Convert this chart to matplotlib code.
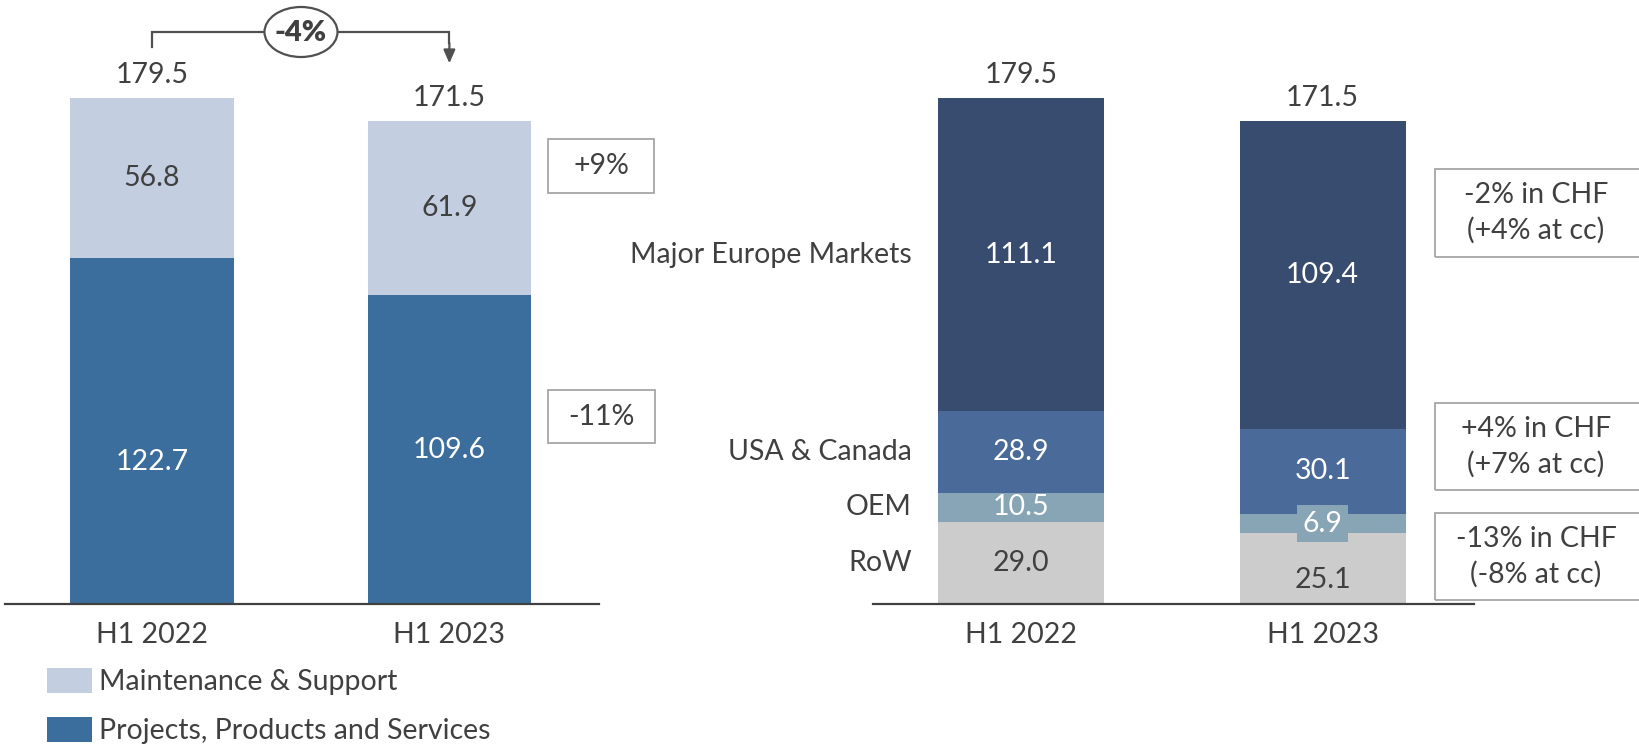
import matplotlib.pyplot as plt
from matplotlib.patches import Rectangle, Ellipse

plt.rcParams['font.family'] = ['Lato', 'DejaVu Sans']

# data
periods = ['H1 2022', 'H1 2023']
projects = [122.7, 109.6]
maintenance = [56.8, 61.9]
totals = [179.5, 171.5]

region_names = ['RoW', 'OEM', 'USA & Canada', 'Major Europe Markets']
row = [29.0, 25.1]
oem = [10.5, 6.9]
usa = [28.9, 30.1]
europe = [111.1, 109.4]

total_change = '-4%'
left_changes = ['+9%', '-11%']
right_changes = ['-2% in CHF\n(+4% at cc)', '+4% in CHF\n(+7% at cc)', '-13% in CHF\n(-8% at cc)']

# colours
c_light = '#c3cee0'
c_blue = '#3b6e9c'
c_navy = '#374c6e'
c_usa = '#4a6a9a'
c_oem = '#87a5b4'
c_row = '#cccccc'
c_text = '#404040'
c_box = '#a6a6a6'

W, H = 1639, 745
fig = plt.figure(figsize=(W / 100, H / 100), dpi=100)
YMAX = 604 / 2.819
FS = 20.5


def fx(x):
    return x / W


def fy(y):
    return 1 - y / H


def box(x0, y0, x1, y1, text):
    fig.patches.append(Rectangle((fx(x0), fy(y1)), fx(x1) - fx(x0), fy(y0) - fy(y1),
                                 transform=fig.transFigure, fill=False, ec=c_box, lw=1.3))
    fig.text(fx((x0 + min(x1, 1637)) / 2), fy((y0 + y1) / 2), text, ha='center', va='center',
             fontsize=FS, color=c_text, linespacing=1.4)


def setup(ax, xl, xr):
    ax.set_xlim(xl, xr)
    ax.set_ylim(0, YMAX)
    for s in ['top', 'left', 'right']:
        ax.spines[s].set_visible(False)
    ax.spines['bottom'].set_color(c_text)
    ax.spines['bottom'].set_linewidth(1.6)
    ax.set_yticks([])
    ax.set_xticks(range(len(periods)))
    ax.set_xticklabels(periods, fontsize=FS, color=c_text)
    ax.tick_params(axis='x', length=0, pad=13)
    ax.patch.set_alpha(0)


x = [0, 1]
bw = 0.55

# left chart
ax1 = fig.add_axes([fx(5), fy(604), fx(599) - fx(5), 604 / H])
setup(ax1, -0.494, 1.503)
b_proj = ax1.bar(x, projects, bw, color=c_blue, label='Projects, Products and Services')
b_maint = ax1.bar(x, maintenance, bw, bottom=projects, color=c_light, label='Maintenance & Support')
proj_label_shift = [-11, 0]
for i in x:
    ax1.text(i, projects[i] / 2 + proj_label_shift[i], f'{projects[i]:.1f}', ha='center', va='center',
             fontsize=FS, color='white')
    ax1.text(i, projects[i] + maintenance[i] / 2, f'{maintenance[i]:.1f}', ha='center', va='center',
             fontsize=FS, color=c_text)
    ax1.text(i, totals[i] + 8, f'{totals[i]:.1f}', ha='center', va='center', fontsize=FS, color=c_text)

# -4% bracket arrow
y_top = 202.9
ax1.plot([0, 0, 1, 1], [totals[0] + 18, y_top, y_top, y_top - 4], color='#505050', lw=1.6,
         solid_joinstyle='miter')
ax1.annotate('', xy=(1, totals[1] + 19.3), xytext=(1, y_top - 3),
             arrowprops=dict(arrowstyle='-|>,head_width=0.35,head_length=0.8', color='#505050', lw=1.6))
fig.patches.append(Ellipse((fx(301), fy(32)), fx(73), 50 / H, transform=fig.transFigure,
                           fc='white', ec='#505050', lw=1.6))
fig.text(fx(301), fy(33), total_change, ha='center', va='center', fontsize=21, fontweight='heavy',
         color=c_text)

box(548, 139, 654, 193, left_changes[0])
box(548, 390, 655, 443, left_changes[1])

leg = fig.legend(handles=[b_maint, b_proj], loc='upper left', bbox_to_anchor=(fx(47), fy(668)),
                 frameon=False, fontsize=FS, handlelength=1.58, handleheight=1.0,
                 handletextpad=0.25, labelspacing=0.74, borderaxespad=0, borderpad=0)
for t in leg.get_texts():
    t.set_color(c_text)

# right chart
ax2 = fig.add_axes([fx(873), fy(604), fx(1474) - fx(873), 604 / H])
setup(ax2, -0.491, 1.502)
bottoms = [0, 0]
series = [(row, c_row, c_text), (oem, c_oem, 'white'), (usa, c_usa, 'white'), (europe, c_navy, 'white')]
row_label_shift = [0, -4]
for k, (vals, col, tcol) in enumerate(series):
    ax2.bar(x, vals, bw, bottom=bottoms, color=col)
    for i in x:
        mid = bottoms[i] + vals[i] / 2
        if k == 0:
            mid += row_label_shift[i]
        kw = {}
        if vals[i] < 8:
            kw['bbox'] = dict(boxstyle='square,pad=0.2', fc=col, ec='none')
        ax2.text(i, mid, f'{vals[i]:.1f}', ha='center', va='center', fontsize=FS, color=tcol, **kw)
        if i == 0:
            ax2.text(-bw / 2 - 0.087, bottoms[i] + vals[i] / 2, region_names[k], ha='right', va='center',
                     fontsize=FS, color=c_text)
    bottoms = [bottoms[i] + vals[i] for i in x]
for i in x:
    ax2.text(i, totals[i] + 8, f'{totals[i]:.1f}', ha='center', va='center', fontsize=FS, color=c_text)

box(1435, 169, 1650, 257, right_changes[0])
box(1435, 403, 1650, 490, right_changes[1])
box(1435, 513, 1650, 600, right_changes[2])

fig.savefig('out.png', dpi=100)
